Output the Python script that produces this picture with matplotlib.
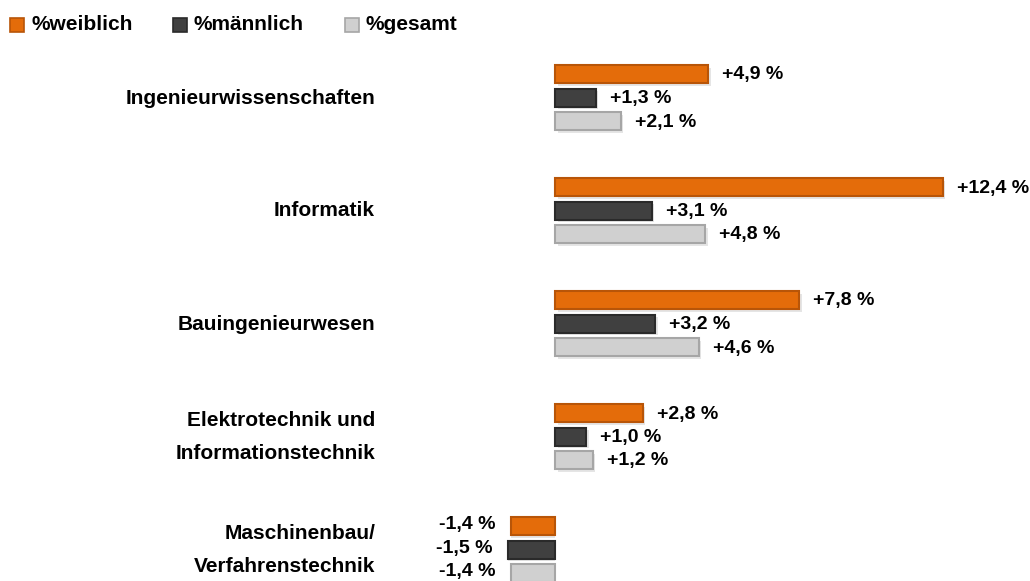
import matplotlib
matplotlib.use("Agg")
import matplotlib.pyplot as plt
from matplotlib.patches import Rectangle

categories = ["Ingenieurwissenschaften", "Informatik", "Bauingenieurwesen",
              "Elektrotechnik und\nInformationstechnik", "Maschinenbau/\nVerfahrenstechnik"]
weiblich = [4.9, 12.4, 7.8, 2.8, -1.4]
maennlich = [1.3, 3.1, 3.2, 1.0, -1.5]
gesamt = [2.1, 4.8, 4.6, 1.2, -1.4]
series_names = ["%weiblich", "%männlich", "%gesamt"]

colors = ["#E46C0A", "#404040", "#D0D0D0"]
edges = ["#B85508", "#2A2A2A", "#A6A6A6"]

FONT = ["Liberation Sans", "DejaVu Sans"]
plt.rcParams['font.family'] = FONT

W, H = 1030, 581
fig = plt.figure(figsize=(W / 100, H / 100), dpi=100)
ax = fig.add_axes([0, 0, 1, 1])
scale = 31.29
x0 = 555
ax.set_xlim(-x0 / scale, (W - x0) / scale)
ax.set_ylim(H, 0)
ax.axis("off")

group_start = 74
group_step = 113
bar_step = 23.5
bar_h = 18

def fmt(v):
    s = f"{v:+.1f}".replace(".", ",")
    return s + " %"

for s_idx, vals in enumerate([weiblich, maennlich, gesamt]):
    for g, v in enumerate(vals):
        yc = group_start + g * group_step + s_idx * bar_step
        # shadow
        ax.barh(yc + 2.5, v, left=2.5 / scale * (1 if v > 0 else 0), height=bar_h,
                color="#000000", alpha=0.10, linewidth=0, zorder=1)
        ax.barh(yc, v, height=bar_h, color=colors[s_idx], edgecolor=edges[s_idx],
                linewidth=1.5, zorder=2)
        if v >= 0:
            ax.text(v + 14 / scale, yc + 1, fmt(v), ha="left", va="center",
                    fontsize=14, fontweight="bold", color="black")
        else:
            ax.text(v - 16 / scale, yc - 1.5, fmt(v), ha="right", va="center",
                    fontsize=14, fontweight="bold", color="black")

for g, cat in enumerate(categories):
    yc = group_start + g * group_step + bar_step
    ax.text((375 - x0) / scale, yc + 0.5, cat, ha="right", va="center", fontsize=15,
            fontweight="bold", color="black", linespacing=1.95)

# legend
leg_x = [10, 173, 345]
for i, name in enumerate(series_names):
    fig.patches.append(Rectangle((leg_x[i] / W, 1 - 32 / H), 14 / W, 14 / H,
                                 transform=fig.transFigure, facecolor=colors[i],
                                 edgecolor=edges[i], linewidth=1.2))
    fig.text((leg_x[i] + 21) / W, 1 - 25 / H, name, ha="left", va="center",
             fontsize=15, fontweight="bold", color="black")

fig.savefig("out.png", dpi=100)
